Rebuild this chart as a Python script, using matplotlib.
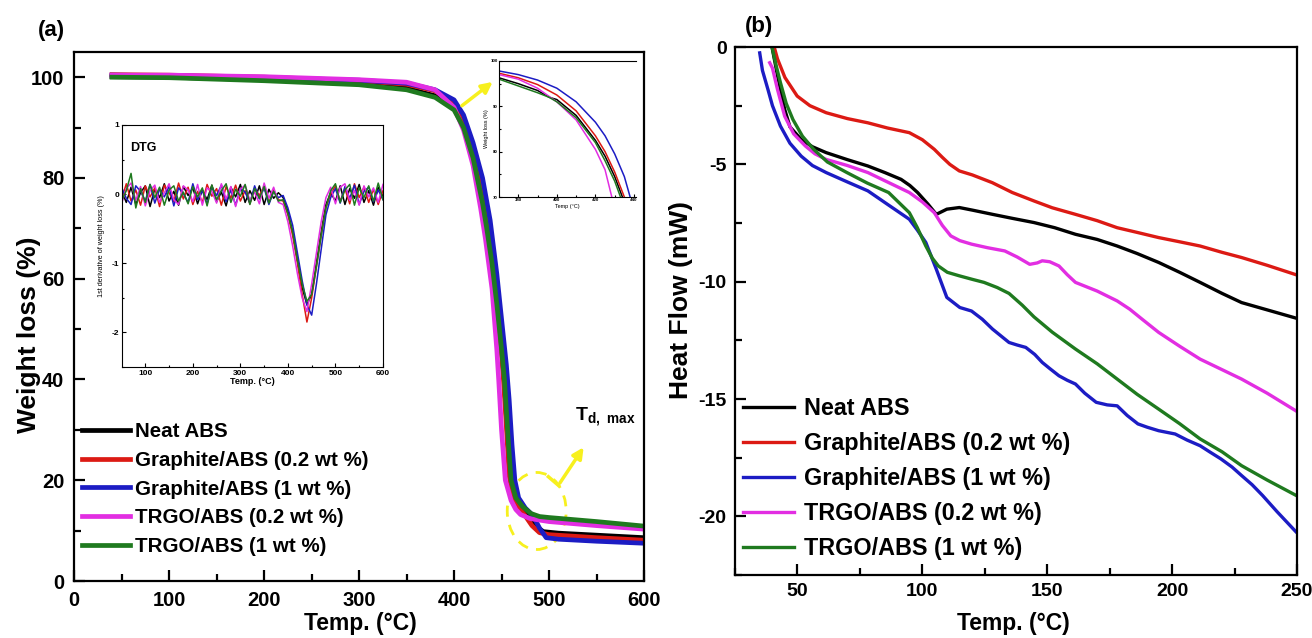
import matplotlib
matplotlib.use("Agg")
import matplotlib.pyplot as plt
from matplotlib.patches import Ellipse
from matplotlib.ticker import MultipleLocator

plt.rcParams['font.family'] = ['Liberation Sans', 'DejaVu Sans']
plt.rcParams['font.weight'] = 'bold'
plt.rcParams['axes.unicode_minus'] = False
plt.rcParams['mathtext.fontset'] = 'custom'
plt.rcParams['mathtext.rm'] = 'Liberation Sans'
plt.rcParams['mathtext.bf'] = 'Liberation Sans:bold'

labels = ["Neat ABS", "Graphite/ABS (0.2 wt %)", "Graphite/ABS (1 wt %)",
          "TRGO/ABS (0.2 wt %)", "TRGO/ABS (1 wt %)"]
colors = ["#000000", "#dc1a14", "#1c1cc4", "#e22ee2", "#1f7a1f"]

# ---- (a) TGA curves, weight loss (%) vs temp ----
tga_neat_t = [40, 100, 200, 300, 350, 380, 400, 410, 420, 430, 435, 440, 445, 450, 453, 456, 459, 463, 470, 477, 485, 494, 510, 550, 600]
tga_neat_w = [100.1, 100.0, 99.5, 98.8, 97.8, 96.3, 94.0, 90.5, 84.5, 76, 70.5, 63.5, 55, 46, 39.5, 30, 21, 17, 14.5, 13, 11, 9.8, 9.5, 9.1, 8.6]
tga_g02_t = [40, 100, 200, 300, 350, 380, 400, 410, 420, 430, 436, 440, 445, 450, 452, 455, 458, 462, 468, 474, 482, 490, 500, 550, 600]
tga_g02_w = [100.5, 100.4, 100.0, 99.3, 98.6, 97.3, 95.0, 91.8, 86, 78, 70.5, 65, 56, 45, 40, 31, 21, 16.5, 14.5, 13.2, 11, 9.6, 9.2, 8.6, 8.1]
tga_g1_t = [40, 100, 200, 300, 350, 380, 400, 410, 420, 430, 438, 445, 450, 455, 458, 461, 464, 468, 475, 483, 490, 497, 510, 550, 600]
tga_g1_w = [100.4, 100.3, 99.9, 99.4, 98.8, 97.5, 95.5, 92.5, 87, 80, 71.6, 61, 52, 43, 36, 27, 20, 16.5, 14.5, 13, 10.5, 8.6, 8.3, 7.9, 7.5]
tga_t02_t = [40, 100, 200, 300, 350, 380, 400, 410, 420, 428, 433, 440, 445, 447, 450, 454, 460, 465, 470, 480, 500, 550, 600]
tga_t02_w = [100.4, 100.4, 100.1, 99.5, 99.0, 97.5, 94.0, 89.5, 82.5, 74, 68, 58, 46, 40, 30, 20, 16, 14.2, 13.2, 12.4, 11.8, 11.0, 10.3]
tga_t1_t = [40, 100, 200, 300, 350, 380, 400, 410, 420, 430, 434, 440, 445, 450, 453, 457, 460, 465, 472, 481, 490, 500, 550, 600]
tga_t1_w = [100.0, 99.9, 99.3, 98.5, 97.5, 96.0, 93.5, 90.0, 84, 75, 70.5, 63, 55, 46, 40, 28, 20, 16.5, 14.8, 13.4, 12.8, 12.6, 11.8, 10.9]

# ---- inset: close-up of onset ----
zm_neat_t = [370, 380, 390, 396, 400, 410, 420, 425, 430, 434]
zm_neat_w = [96.3, 95.0, 93.5, 92.0, 91.5, 88.0, 82.5, 79.0, 74.5, 70.0]
zm_g02_t = [370, 380, 390, 400, 410, 420, 425, 430, 435]
zm_g02_w = [97.3, 96.3, 94.8, 92.5, 89.0, 83.5, 80.0, 75.5, 70.0]
zm_g1_t = [370, 380, 390, 400, 410, 420, 425, 430, 435, 438]
zm_g1_w = [97.8, 97.0, 95.8, 94.0, 91.0, 86.5, 83.5, 79.5, 74.5, 70.0]
zm_t02_t = [370, 380, 390, 400, 410, 420, 425, 428.5]
zm_t02_w = [97.0, 96.0, 94.0, 91.0, 87.0, 80.5, 76.0, 70.0]
zm_t1_t = [370, 380, 390, 396, 400, 410, 420, 425, 430, 433]
zm_t1_w = [96.0, 94.5, 93.0, 92.0, 91.0, 87.5, 82.0, 78.0, 73.5, 70.0]

# ---- inset: DTG (every 10 C from 50 to 600) ----
dtg_t = list(range(50, 601, 10))
dtg_neat = [0.05, -0.12, 0.10, -0.15, 0.02, 0.12, -0.18, 0.08, -0.05, 0.15, -0.10, 0.04, -0.16, 0.11, -0.02, 0.09, -0.14,
            0.06, -0.08, 0.13, -0.11, 0.03, -0.17, 0.10, -0.04, 0.14, -0.12, 0.05, -0.09, 0.12, -0.15, 0.07, -0.06, 0.02,
            -0.05, -0.25, -0.55, -0.95, -1.35, -1.6, -1.45, -1.0, -0.55, -0.15, 0.02,
            -0.10, 0.12, -0.15, 0.08, -0.06, 0.14, -0.12, 0.05, -0.16, 0.10, -0.03]
dtg_g02 = [-0.08, 0.15, -0.10, 0.06, -0.16, 0.12, -0.04, 0.09, -0.18, 0.13, 0.02, -0.11, 0.16, -0.07, 0.10, -0.15, 0.04,
           -0.12, 0.14, -0.03, 0.08, -0.16, 0.11, -0.06, 0.13, -0.10, 0.05, -0.14, 0.09, -0.02, 0.12, -0.13, 0.06, -0.08,
           -0.10, -0.30, -0.60, -1.0, -1.45, -1.85, -1.5, -1.05, -0.6, -0.2, 0.0,
           0.12, -0.10, 0.08, -0.14, 0.15, -0.05, 0.10, -0.12, 0.07, -0.15, 0.05]
dtg_g1 = [0.10, -0.06, -0.15, 0.12, 0.04, -0.10, 0.14, -0.13, 0.07, -0.04, 0.11, -0.17, 0.09, 0.01, -0.12, 0.15, -0.08,
          0.05, -0.14, 0.10, -0.02, 0.13, -0.11, 0.06, -0.16, 0.08, 0.03, -0.13, 0.12, -0.07, 0.09, -0.15, 0.04, -0.05,
          -0.02, -0.20, -0.45, -0.85, -1.25, -1.6, -1.75, -1.3, -0.8, -0.3, -0.05,
          0.08, -0.13, 0.11, -0.06, 0.13, -0.15, 0.04, 0.10, -0.11, 0.06, -0.08]
dtg_t02 = [-0.14, 0.08, 0.16, -0.09, 0.11, -0.17, 0.05, 0.13, -0.12, 0.02, 0.15, -0.08, -0.15, 0.12, 0.06, -0.11, 0.14,
           -0.16, 0.09, 0.04, -0.13, 0.15, -0.07, 0.11, -0.18, 0.07, 0.13, -0.09, 0.03, -0.14, 0.16, -0.06, 0.10, -0.12,
           -0.15, -0.40, -0.75, -1.15, -1.5, -1.7, -1.3, -0.85, -0.4, -0.05, 0.1,
           -0.14, 0.10, 0.15, -0.09, 0.05, -0.16, 0.12, -0.04, 0.09, -0.12, 0.14]
dtg_t1 = [-0.10, 0.05, 0.30, -0.20, 0.08, -0.12, 0.14, -0.05, 0.10, -0.16, 0.06, 0.12, -0.10, 0.03, -0.14, 0.11, -0.04,
          0.09, -0.17, 0.13, -0.08, 0.05, 0.15, -0.12, 0.07, -0.03, 0.14, -0.15, 0.08, -0.06, 0.11, -0.13, 0.04, -0.10,
          -0.08, -0.28, -0.55, -0.95, -1.3, -1.55, -1.45, -1.05, -0.6, -0.2, 0.05,
          0.15, -0.12, 0.06, 0.14, -0.16, 0.09, -0.05, 0.12, -0.10, 0.16, -0.08]

# ---- (b) DSC heat flow (mW) vs temp ----
dsc_neat_t = [40, 42, 44.9, 47, 51.5, 56, 61.5, 70, 78.2, 85, 91.5, 95, 98.1, 102.3, 105.6, 109.8, 114.8, 120, 128.1, 136,
              144.7, 153, 161.3, 170, 178, 186, 194.6, 203, 211.2, 220, 227.8, 238, 249.5]
dsc_neat_h = [-0.1, -1.2, -2.66, -3.4, -3.94, -4.25, -4.5, -4.8, -5.07, -5.35, -5.64, -5.9, -6.2, -6.7, -7.13, -6.91, -6.84,
              -6.95, -7.13, -7.3, -7.48, -7.7, -7.98, -8.2, -8.48, -8.8, -9.18, -9.6, -10.03, -10.5, -10.89, -11.2, -11.55]
dsc_g02_t = [40.7, 42, 45, 49.9, 55, 61.5, 70, 78.2, 86, 94.8, 100, 104.8, 108, 111, 114.8, 120, 128, 136, 144.7, 152, 161.3,
             170, 178, 186, 194.6, 203, 211.2, 220, 227.8, 238, 249.5]
dsc_g02_h = [0.0, -0.5, -1.3, -2.09, -2.5, -2.8, -3.05, -3.23, -3.45, -3.65, -3.95, -4.36, -4.7, -5.0, -5.28, -5.45, -5.78,
             -6.2, -6.56, -6.85, -7.13, -7.4, -7.7, -7.9, -8.12, -8.3, -8.48, -8.75, -8.97, -9.3, -9.7]
dsc_g1_t = [34.9, 36, 38.2, 40, 43.2, 47, 51.5, 56, 61.5, 70, 78.2, 86, 94.8, 98, 101.4, 105.6, 109.8, 115, 119.7, 124,
            128.1, 134.7, 138, 141.4, 145, 148, 151, 154.7, 158, 161.3, 165, 169.6, 174, 178, 182, 186.3, 190, 194.6,
            201.2, 206, 211.2, 215, 219.5, 224, 227.8, 232, 236.2, 242, 249.5]
dsc_g1_h = [-0.25, -1.0, -1.81, -2.5, -3.37, -4.1, -4.65, -5.05, -5.35, -5.75, -6.13, -6.7, -7.34, -7.8, -8.33, -9.47,
            -10.67, -11.1, -11.25, -11.6, -12.02, -12.59, -12.7, -12.8, -13.1, -13.44, -13.7, -14.01, -14.2, -14.36,
            -14.75, -15.14, -15.25, -15.29, -15.7, -16.06, -16.2, -16.35, -16.49, -16.75, -16.99, -17.25, -17.55,
            -17.9, -18.26, -18.65, -19.11, -19.8, -20.65]
dsc_t02_t = [38.9, 40, 42, 44.9, 48.5, 53.2, 57, 61.5, 70, 78.2, 86, 94.8, 100, 104.8, 108, 111.4, 115, 119.7, 126, 133,
             138, 143, 146, 148, 151, 154.7, 158, 161.3, 170, 178, 183, 188, 194.6, 203, 211.2, 220, 227.8, 238, 249.5]
dsc_t02_h = [-0.67, -0.9, -1.8, -2.95, -3.7, -4.22, -4.55, -4.79, -5.05, -5.35, -5.75, -6.2, -6.6, -7.06, -7.6, -8.05,
             -8.25, -8.4, -8.55, -8.69, -8.95, -9.26, -9.2, -9.11, -9.15, -9.33, -9.7, -10.03, -10.4, -10.82, -11.17,
             -11.6, -12.16, -12.75, -13.3, -13.75, -14.15, -14.75, -15.5]
dsc_t1_t = [40, 41.5, 43.2, 45.5, 48.2, 52, 56.5, 62, 69.8, 78, 86.5, 94.8, 98, 101.4, 104, 106.4, 110, 114.8, 120, 124.7,
            130, 134.7, 140, 144.7, 152, 161.3, 170, 178, 186, 194.6, 203, 211.2, 220, 227.8, 238, 249.5]
dsc_t1_h = [-0.08, -0.8, -1.52, -2.4, -3.09, -3.8, -4.36, -4.9, -5.35, -5.8, -6.2, -7.06, -7.7, -8.48, -9.0, -9.33, -9.6,
            -9.75, -9.9, -10.03, -10.25, -10.5, -11.0, -11.5, -12.15, -12.87, -13.5, -14.15, -14.8, -15.43, -16.05,
            -16.7, -17.25, -17.84, -18.45, -19.1]

tga = [(tga_neat_t, tga_neat_w), (tga_g02_t, tga_g02_w), (tga_g1_t, tga_g1_w), (tga_t02_t, tga_t02_w), (tga_t1_t, tga_t1_w)]
zoom = [(zm_neat_t, zm_neat_w), (zm_g02_t, zm_g02_w), (zm_g1_t, zm_g1_w), (zm_t02_t, zm_t02_w), (zm_t1_t, zm_t1_w)]
dtg = [dtg_neat, dtg_g02, dtg_g1, dtg_t02, dtg_t1]
dsc = [(dsc_neat_t, dsc_neat_h), (dsc_g02_t, dsc_g02_h), (dsc_g1_t, dsc_g1_h), (dsc_t02_t, dsc_t02_h), (dsc_t1_t, dsc_t1_h)]


def style_axes(ax, lw, size, length, pad):
    for s in ax.spines.values():
        s.set_linewidth(lw)
    ax.tick_params(which='both', direction='in', width=lw, labelsize=size, pad=pad,
                   top=False, right=False)
    ax.tick_params(which='major', length=length)
    ax.tick_params(which='minor', length=length * 0.6)


fig = plt.figure(figsize=(13.12, 6.38), dpi=100)

# (a)
ax1 = fig.add_axes([0.0564, 0.0893, 0.4345, 0.8292])
for (t, w), c, lab in zip(tga, colors, labels):
    ax1.plot(t, w, color=c, lw=3.4, label=lab)
ax1.set_xlim(0, 600)
ax1.set_ylim(0, 105)
ax1.xaxis.set_major_locator(MultipleLocator(100))
ax1.xaxis.set_minor_locator(MultipleLocator(50))
ax1.yaxis.set_major_locator(MultipleLocator(20))
ax1.yaxis.set_minor_locator(MultipleLocator(10))
style_axes(ax1, 1.6, 14.5, 8, 7)
ax1.set_xlabel("Temp. (°C)", fontsize=16.5, fontweight='bold')
ax1.set_ylabel("Weight loss (%)", fontsize=19, fontweight='bold')
ax1.xaxis.set_label_coords(0.502, -0.058)
ax1.yaxis.set_label_coords(-0.058, 0.465)
ax1.legend(loc='upper left', bbox_to_anchor=(0.014, 0.30), frameon=False, borderpad=0, borderaxespad=0,
           handlelength=2.35, handletextpad=0.25, labelspacing=0.47, prop={'size': 14.8, 'weight': 'bold'})

# yellow markers
ax1.annotate('', xy=(443, 99.4), xytext=(406, 94),
             arrowprops=dict(arrowstyle='-|>', color='#f7f01e', lw=2.5, mutation_scale=16))
ax1.add_patch(Ellipse((487, 13.9), 62, 15.3, fill=False, ls=(0, (4, 3)), ec='#f7f01e', lw=2))
ax1.plot([499.3, 509.8], [20.7, 19.0], color='#f7f01e', lw=2.5)
ax1.annotate('', xy=(538, 27.0), xytext=(509.8, 19.0),
             arrowprops=dict(arrowstyle='-|>', color='#f7f01e', lw=2.5, mutation_scale=16))
ax1.text(527, 32.5, r'$\mathbf{T}_{\mathbf{d,\ max}}$', fontsize=14, va='center', ha='left')

# DTG inset
ax2 = fig.add_axes([0.0930, 0.4248, 0.1989, 0.3793])
for d, c in zip(dtg, colors):
    ax2.plot(dtg_t, d, color=c, lw=1.1)
ax2.set_xlim(51, 600)
ax2.set_ylim(-2.5, 1)
ax2.xaxis.set_major_locator(MultipleLocator(100))
ax2.xaxis.set_minor_locator(MultipleLocator(50))
ax2.yaxis.set_major_locator(MultipleLocator(1))
ax2.yaxis.set_minor_locator(MultipleLocator(0.5))
style_axes(ax2, 0.8, 6, 3, 2)
ax2.set_yticks([1, 0, -1, -2])
ax2.set_xlabel("Temp. (°C)", fontsize=6.5, fontweight='bold', labelpad=0)
ax2.set_ylabel("1st derivative of weight loss (%)", fontsize=5.2, fontweight='normal', labelpad=5)
ax2.text(0.03, 0.93, "DTG", transform=ax2.transAxes, fontsize=9, fontweight='bold', va='top')

# zoom inset
ax3 = fig.add_axes([0.3803, 0.6912, 0.1044, 0.2132])
for (t, w), c in zip(zoom, colors):
    ax3.plot(t, w, color=c, lw=1.1)
ax3.set_xlim(370, 441)
ax3.set_ylim(70, 100)
ax3.set_xticks([380, 400, 420, 440])
ax3.set_yticks([70, 80, 90, 100])
ax3.xaxis.set_minor_locator(MultipleLocator(10))
ax3.yaxis.set_minor_locator(MultipleLocator(5))
style_axes(ax3, 0.8, 3.2, 2, 1)
ax3.spines['right'].set_visible(False)
ax3.set_xlabel("Temp (°C)", fontsize=4, fontweight='normal', labelpad=1)
ax3.set_ylabel("Weight loss (%)", fontsize=4, fontweight='normal', labelpad=1)

# (b)
ax4 = fig.add_axes([0.5602, 0.0987, 0.4284, 0.8276])
for (t, h), c, lab in zip(dsc, colors, labels):
    ax4.plot(t, h, color=c, lw=2.4, label=lab)
ax4.set_xlim(25, 250)
ax4.set_ylim(-22.5, 0)
ax4.xaxis.set_major_locator(MultipleLocator(50))
ax4.xaxis.set_minor_locator(MultipleLocator(25))
ax4.yaxis.set_major_locator(MultipleLocator(5))
ax4.yaxis.set_minor_locator(MultipleLocator(2.5))
style_axes(ax4, 1.6, 14, 8, 6)
ax4.set_xlabel("Temp. (°C)", fontsize=16.5, fontweight='bold')
ax4.set_ylabel("Heat Flow (mW)", fontsize=19, fontweight='bold')
ax4.xaxis.set_label_coords(0.495, -0.07)
ax4.yaxis.set_label_coords(-0.074, 0.52)
ax4.legend(loc='upper left', bbox_to_anchor=(0.014, 0.337), frameon=False, borderpad=0, borderaxespad=0,
           handlelength=2.2, handletextpad=0.4, labelspacing=0.51, prop={'size': 16.8, 'weight': 'bold'})

fig.text(0.029, 0.952, "(a)", fontsize=16, fontweight='bold', va='center')
fig.text(0.568, 0.959, "(b)", fontsize=16, fontweight='bold', va='center')

fig.savefig("out.png", dpi=100)
